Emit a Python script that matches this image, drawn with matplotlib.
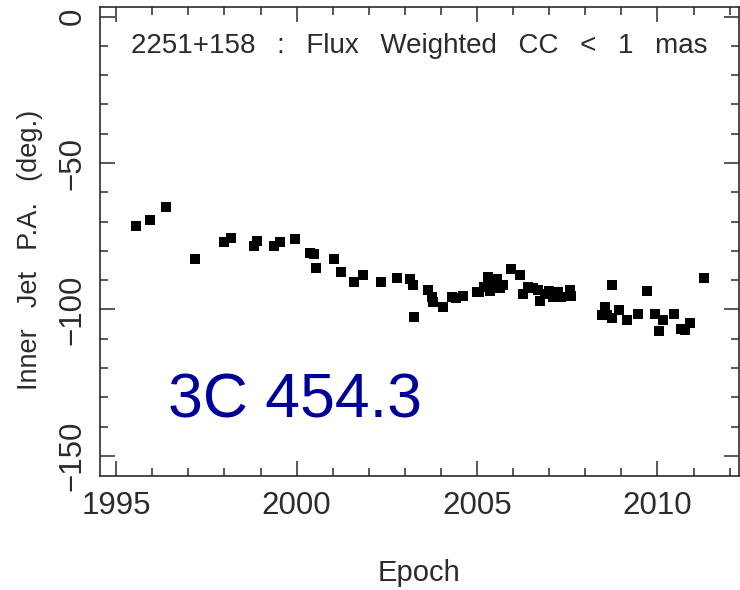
import matplotlib
matplotlib.use("Agg")
import matplotlib.pyplot as plt
from matplotlib.ticker import MultipleLocator

# Epoch (decimal year) and inner-jet position angle (deg) for 2251+158
epoch = [
    1995.55, 1995.94, 1996.37, 1997.18, 1997.99, 1998.18, 1998.81, 1998.89,
    1999.37, 1999.53, 1999.95, 2000.37, 2000.49, 2000.55, 2001.04, 2001.22,
    2001.58, 2001.83, 2002.33, 2002.78, 2003.14, 2003.23, 2003.25, 2003.64,
    2003.74, 2003.78, 2004.06, 2004.31, 2004.43, 2004.60, 2005.00, 2005.06,
    2005.19, 2005.30, 2005.35, 2005.46, 2005.54, 2005.63, 2005.72, 2005.93,
    2006.18, 2006.26, 2006.41, 2006.55, 2006.69, 2006.74, 2006.87, 2007.00,
    2007.10, 2007.24, 2007.34, 2007.57, 2007.61, 2008.47, 2008.54, 2008.60,
    2008.75, 2008.75, 2008.93, 2009.15, 2009.47, 2009.72, 2009.92, 2010.04,
    2010.14, 2010.46, 2010.66, 2010.75, 2010.89, 2011.28,
]
pa_deg = [
    -71.5, -69.5, -64.9, -82.8, -77.0, -75.7, -78.4, -76.5,
    -78.4, -77.1, -76.1, -80.7, -80.9, -85.7, -82.8, -87.2,
    -90.8, -88.4, -90.8, -89.4, -89.6, -91.5, -102.5, -93.4,
    -95.7, -97.6, -99.3, -95.9, -96.0, -95.4, -94.2, -94.0,
    -92.5, -88.9, -93.8, -91.5, -89.6, -92.8, -91.5, -86.3,
    -88.3, -94.9, -92.5, -92.8, -93.4, -97.2, -94.9, -93.7,
    -95.7, -94.2, -95.7, -93.4, -95.4, -102.0, -99.1, -102.0,
    -103.1, -91.7, -100.2, -103.7, -101.7, -93.6, -101.6, -107.4,
    -103.7, -101.4, -106.8, -107.1, -104.6, -89.1,
]

x_ticks = [1995, 2000, 2005, 2010]
y_ticks = [0, -50, -100, -150]

# wide word gaps, as in the plotting package's own lettering
GAP = " \u2002"
title_text = GAP.join(["2251+158", ":", "Flux", "Weighted", "CC", "<", "1", "mas"])
ylabel_text = GAP.join(["Inner", "Jet", "P.A.", "(deg.)"])
source_name = "3C 454.3"

ink = "#2b2b2b"
font = ["Liberation Sans", "DejaVu Sans"]

fig = plt.figure(figsize=(7.4, 5.9), dpi=100)
ax = fig.add_axes([100 / 740, 114 / 590, 639 / 740, 469 / 590])

ax.plot(epoch, pa_deg, linestyle="none", marker="s", markersize=6.6,
        color="black", markeredgewidth=0)

ax.set_xlim(1994.55, 2012.26)
ax.set_ylim(-156.9, 3.3)

ax.set_xticks(x_ticks)
ax.set_yticks(y_ticks)
ax.xaxis.set_minor_locator(MultipleLocator(1))
ax.yaxis.set_minor_locator(MultipleLocator(10))

ax.tick_params(which="both", direction="in", top=True, right=True,
               color=ink, width=1.1)
ax.tick_params(which="major", length=11)
ax.tick_params(which="minor", length=6)
ax.tick_params(axis="x", which="major", pad=11)
ax.tick_params(axis="y", which="major", pad=9)

for lab in ax.get_xticklabels():
    lab.set_fontfamily(font)
    lab.set_fontsize(22.5)
    lab.set_color(ink)
for lab in ax.get_yticklabels():
    lab.set_fontfamily(font)
    lab.set_fontsize(22.5)
    lab.set_color(ink)
    lab.set_rotation(90)
    lab.set_verticalalignment("center")

for sp in ax.spines.values():
    sp.set_color(ink)
    sp.set_linewidth(1.2)

ax.set_xlabel("Epoch", fontsize=21, family=font, color=ink)
ax.xaxis.set_label_coords(0.5, (476 - 559) / 469)
ax.set_ylabel(ylabel_text, fontsize=19.5, family=font, color=ink)
ax.yaxis.set_label_coords((43 - 100) / 639, (476 - 250) / 469)

ax.text((708 - 100) / 639, (476 - 53) / 469, title_text, transform=ax.transAxes,
        ha="right", va="baseline", fontsize=20, family=font, color=ink)

ax.text((168 - 100) / 639, (476 - 418) / 469, source_name,
        transform=ax.transAxes, ha="left", va="baseline", fontsize=45,
        family=font, color="#000099")

fig.savefig("out.png", dpi=100)
